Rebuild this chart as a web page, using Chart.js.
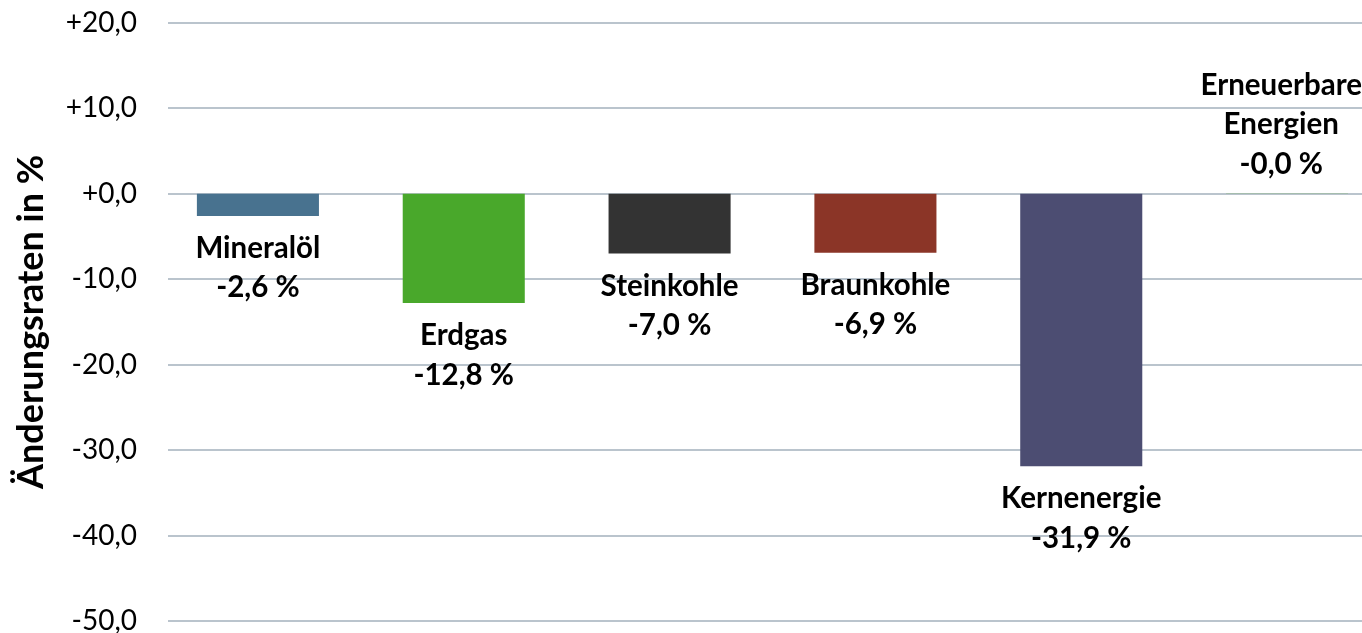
<!DOCTYPE html>
<html lang="de">
<head>
<meta charset="utf-8">
<title>Änderungsraten Energieträger</title>
<script src="https://cdn.jsdelivr.net/npm/chart.js@4/dist/chart.umd.min.js"></script>
<style>
    html, body { margin: 0; padding: 0; background: #fff; overflow: hidden; }
    #wrap { position: relative; width: 1390px; height: 672px; margin-top: -12px; }
</style>
</head>
<body>
<div id="wrap"><canvas id="chart"></canvas></div>
<script>
// Data
const categories = ['Mineralöl', 'Erdgas', 'Steinkohle', 'Braunkohle', 'Kernenergie', 'Erneuerbare Energien'];
const labelLines = [['Mineralöl'], ['Erdgas'], ['Steinkohle'], ['Braunkohle'], ['Kernenergie'], ['Erneuerbare', 'Energien']];
const changeRates = [-2.6, -12.8, -7.0, -6.9, -31.9, -0.02];
const barColors = ['#48728f', '#49a82b', '#333333', '#8b3527', '#4c4d72', '#6aa84f'];
const yMin = -50;
const yMax = 20;
const yStep = 10;

const fontFamily = 'Lato, "Open Sans", sans-serif';

function fmt(v) {
    return v.toFixed(1).replace('.', ',');
}

// gridlines start a bit right of the plot edge, like the original
const gridPlugin = {
    id: 'gridLines',
    beforeDatasetsDraw(chart) {
        const ctx = chart.ctx;
        const y = chart.scales.y;
        ctx.save();
        ctx.strokeStyle = '#bac4cd';
        ctx.lineWidth = 2;
        y.ticks.forEach(function(t) {
            const py = Math.round(y.getPixelForValue(t.value));
            ctx.beginPath();
            ctx.moveTo(168, py);
            ctx.lineTo(chart.chartArea.right, py);
            ctx.stroke();
        });
        ctx.restore();
    }
};

// category name + value under (or over) each bar
const labelPlugin = {
    id: 'barLabels',
    afterDatasetsDraw(chart) {
        const ctx = chart.ctx;
        const meta = chart.getDatasetMeta(0);
        const y = chart.scales.y;
        const zero = y.getPixelForValue(0);
        ctx.save();
        ctx.font = 'bold 29.5px ' + fontFamily;
        ctx.fillStyle = '#000';
        ctx.textAlign = 'center';
        ctx.textBaseline = 'alphabetic';
        meta.data.forEach(function(bar, i) {
            const v = changeRates[i];
            const lines = labelLines[i].concat([fmt(v) + ' %']);
            let x = bar.x;
            const widest = Math.max.apply(null, lines.map(l => ctx.measureText(l).width));
            if (x + widest / 2 > 1362) x = 1362 - widest / 2;
            if (Math.abs(v) < 0.05) {
                lines.slice().reverse().forEach(function(l, k) {
                    ctx.fillText(l, x, zero - 20 - k * 39.5);
                });
            } else {
                lines.forEach(function(l, k) {
                    ctx.fillText(l, x, bar.y + 42 + k * 39.5);
                });
            }
        });
        ctx.restore();
    }
};

new Chart(document.getElementById('chart'), {
    type: 'bar',
    data: {
        labels: categories,
        datasets: [{
            data: changeRates,
            backgroundColor: barColors,
            borderWidth: 0,
            categoryPercentage: 1,
            barPercentage: 0.593
        }]
    },
    options: {
        responsive: true,
        maintainAspectRatio: false,
        animation: false,
        layout: { padding: { top: 9, bottom: 39, left: 0, right: 0 } },
        plugins: {
            legend: { display: false },
            tooltip: { enabled: false }
        },
        scales: {
            x: { display: false },
            y: {
                min: yMin,
                max: yMax,
                border: { display: false },
                grid: { display: false, drawTicks: false },
                ticks: {
                    stepSize: yStep,
                    padding: 18,
                    color: '#000',
                    font: { family: fontFamily, size: 28 },
                    callback: function(v) { return (v >= 0 ? '+' : '') + fmt(v); }
                },
                title: {
                    display: true,
                    text: 'Änderungsraten in %',
                    color: '#000',
                    padding: { top: 10, bottom: 0 },
                    font: { family: fontFamily, size: 36, weight: 'bold' }
                },
                afterFit: function(scale) { scale.width = 155; }
            }
        }
    },
    plugins: [gridPlugin, labelPlugin]
});
</script>
</body>
</html>
